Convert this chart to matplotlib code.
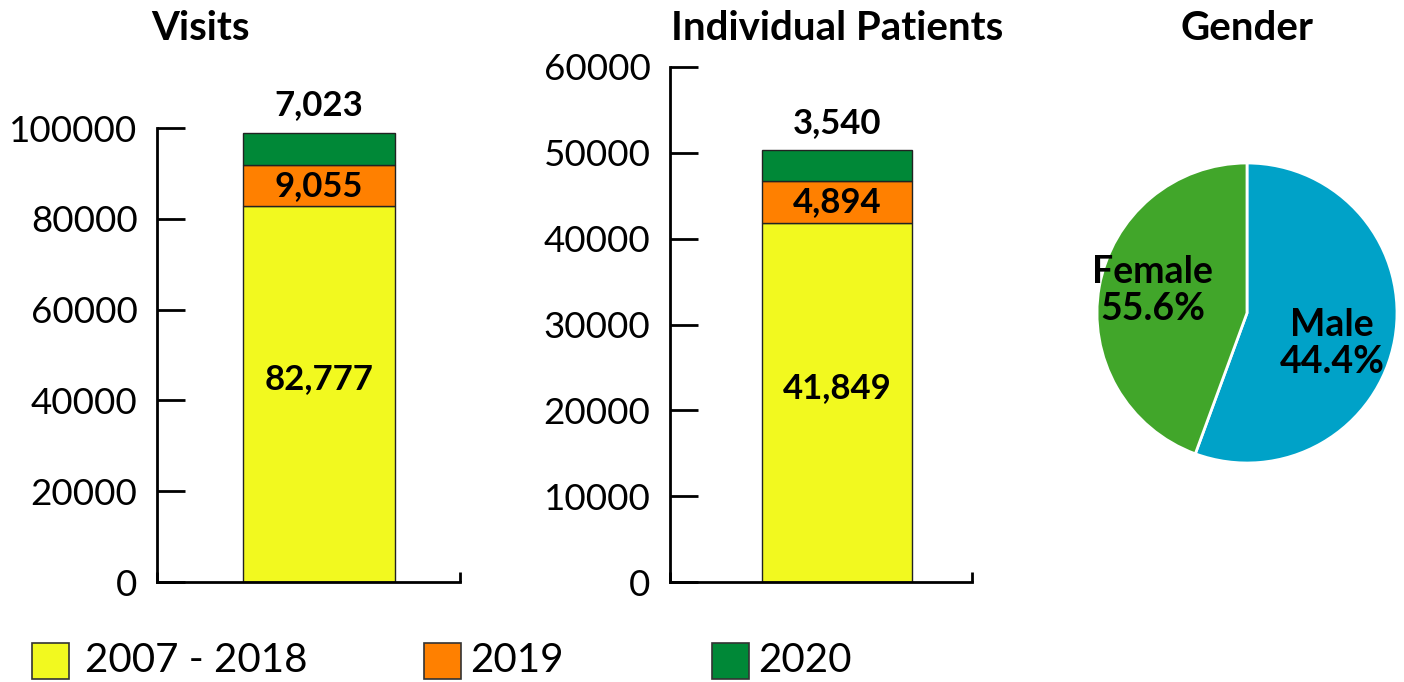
import matplotlib
matplotlib.use("Agg")
import matplotlib.pyplot as plt
from matplotlib.patches import Rectangle

plt.rcParams['font.family'] = ['Lato', 'DejaVu Sans']

# ---- data ----
series = ["2007 - 2018", "2019", "2020"]
series_colors = ["#F2F91F", "#FF8000", "#008837"]
visits = [82777, 9055, 7023]
patients = [41849, 4894, 3540]
visits_ticks = [0, 20000, 40000, 60000, 80000, 100000]
patients_ticks = [0, 10000, 20000, 30000, 40000, 50000, 60000]

gender = ["Male", "Female"]
gender_pct_label = [44.4, 55.6]     # percentages as printed
gender_slice = [55.6, 44.4]         # slice sizes as drawn
gender_colors = ["#00A2C8", "#41A62A"]

W, H = 1404, 682
fig = plt.figure(figsize=(W / 100, H / 100), dpi=100)

def px(x0, y0, x1, y1):
    return [x0 / W, 1 - y1 / H, (x1 - x0) / W, (y1 - y0) / H]

def stacked(ax, values, ticks, xlim):
    bottom = 0
    for i, (v, c) in enumerate(zip(values, series_colors)):
        ax.bar(0, v, width=1.0, bottom=bottom, color=c, edgecolor="#222222", linewidth=1.0)
        if i == 0:
            ax.text(0, bottom + v * 0.54, f"{v:,}", ha="center", va="center",
                    fontsize=25, fontweight="bold", color="black")
        elif i < len(values) - 1:
            ax.text(0, bottom + v / 2, f"{v:,}", ha="center", va="center",
                    fontsize=25, fontweight="bold", color="black")
        else:
            ax.annotate(f"{v:,}", (0, bottom + v), xytext=(0, 20), textcoords="offset points",
                        ha="center", va="center", fontsize=25, fontweight="bold",
                        color="black", annotation_clip=False)
        bottom += v
    ax.set_ylim(ticks[0], ticks[-1])
    ax.set_xlim(*xlim)
    ax.set_yticks(ticks)
    ax.set_yticklabels([str(t) for t in ticks], fontsize=26.5)
    ax.set_xticks(list(xlim))
    ax.set_xticklabels(["", ""])
    for s in ["top", "right"]:
        ax.spines[s].set_visible(False)
    for s in ["left", "bottom"]:
        ax.spines[s].set_linewidth(2)
    ax.tick_params(axis="y", direction="in", length=20, width=2, pad=14)
    ax.tick_params(axis="x", direction="in", length=7, width=2)

ax1 = fig.add_axes(px(157, 128, 460, 582))
stacked(ax1, visits, visits_ticks, (-1.066, 0.926))

ax2 = fig.add_axes(px(670, 67, 972, 582))
stacked(ax2, patients, patients_ticks, (-1.113, 0.899))

ax3 = fig.add_axes(px(1097, 163, 1397, 463))
ax3.pie(gender_slice, colors=gender_colors, startangle=90, counterclock=False,
        wedgeprops=dict(edgecolor="white", linewidth=2), radius=1.0)
ax3.set_xlim(-1, 1)
ax3.set_ylim(-1, 1)
ax3.set_aspect("equal")
# labels (as printed in the reference)
ax3.text(0.567, -0.203, f"{gender[0]}\n{gender_pct_label[0]}%", ha="center", va="center",
         fontsize=27, fontweight="bold", linespacing=1.1)
ax3.text(-0.63, 0.15, f"{gender[1]}\n{gender_pct_label[1]}%", ha="center", va="center",
         fontsize=27, fontweight="bold", linespacing=1.1)

# titles
fig.text(200 / W, 1 - 28 / H, "Visits", ha="center", va="center", fontsize=29, fontweight="bold")
fig.text(837 / W, 1 - 28 / H, "Individual Patients", ha="center", va="center", fontsize=29, fontweight="bold")
fig.text(1247 / W, 1 - 28 / H, "Gender", ha="center", va="center", fontsize=29, fontweight="bold")

# legend
patch_x = [32, 424, 712]
text_x = [85, 470, 758]
for name, col, x0, tx in zip(series, series_colors, patch_x, text_x):
    fig.add_artist(Rectangle((x0 / W, 1 - 679 / H), 37 / W, 36 / H, transform=fig.transFigure,
                             facecolor=col, edgecolor="#333333", linewidth=1.2))
    fig.text(tx / W, 1 - 660 / H, name, ha="left", va="center", fontsize=29)

fig.savefig("out.png", dpi=100)
